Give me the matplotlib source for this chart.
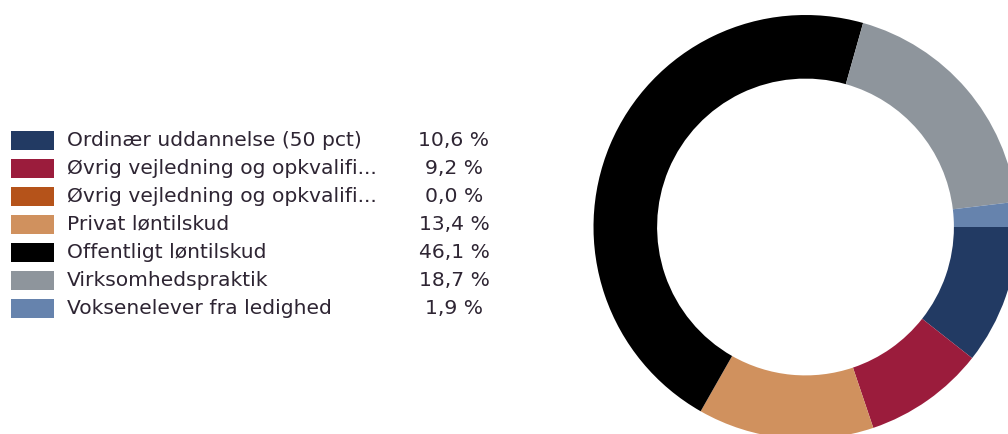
import matplotlib
matplotlib.use("Agg")
import matplotlib.pyplot as plt
from matplotlib.patches import Rectangle

labels = ["Ordinær uddannelse (50 pct)", "Øvrig vejledning og opkvalifi...",
          "Øvrig vejledning og opkvalifi...", "Privat løntilskud",
          "Offentligt løntilskud", "Virksomhedspraktik", "Voksenelever fra ledighed"]
shares = [10.6, 9.2, 0.0, 13.4, 46.1, 18.7, 1.9]
pct_labels = ["10,6 %", "9,2 %", "0,0 %", "13,4 %", "46,1 %", "18,7 %", "1,9 %"]
colors = ["#223a63", "#9b1c3c", "#b5531a", "#d0915e", "#000000", "#8e959c", "#6683ad"]

W, H = 1008, 434
fig = plt.figure(figsize=(W / 100, H / 100), dpi=100)

# donut, partly outside the canvas (as in the reference)
cx, cy, r = 805.5, 227, 212
ax = fig.add_axes([(cx - r) / W, (H - cy - r) / H, 2 * r / W, 2 * r / H])
ax.pie(shares, colors=colors, startangle=0, counterclock=False, radius=1,
       wedgeprops=dict(width=0.3, linewidth=0))
ax.set_xlim(-1, 1)
ax.set_ylim(-1, 1)
ax.set_aspect("auto")
ax.axis("off")

# legend drawn in pixel space
lg = fig.add_axes([0, 0, 1, 1])
lg.set_xlim(0, W)
lg.set_ylim(H, 0)
lg.axis("off")
txt_col = "#2e2533"
y0, step = 140, 28.1
for i, (lab, pct, c) in enumerate(zip(labels, pct_labels, colors)):
    y = y0 + i * step
    lg.add_patch(Rectangle((11, y - 9.5), 43, 19, facecolor=c, edgecolor="none"))
    lg.text(67, y, lab, fontsize=14.6, color=txt_col, va="center", ha="left")
    lg.text(454, y, pct, fontsize=14.6, color=txt_col, va="center", ha="center")

fig.savefig("out.png", dpi=100)
